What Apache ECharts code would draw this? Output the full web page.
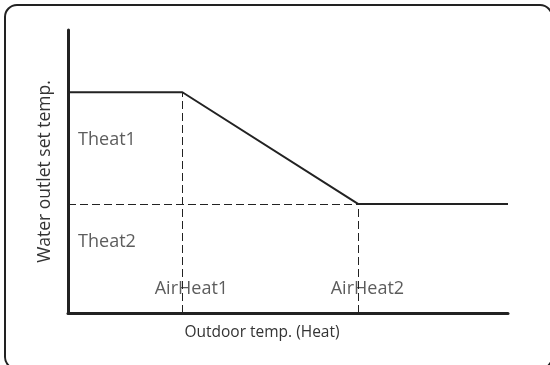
<!DOCTYPE html>
<html>
<head>
<meta charset="utf-8">
<script src="https://cdn.jsdelivr.net/npm/echarts@6/dist/echarts.min.js"></script>
<style>
  html, body { margin: 0; padding: 0; background: #fff; }
  #chart { width: 550px; height: 365px; }
</style>
</head>
<body>
<div id="chart"></div>
<script>
// Heating curve: outdoor temperature breakpoints and the water outlet set point
const outdoorTemp = [0, 26, 66, 100];
const setTemp = [78, 78, 38.5, 38.5];

// Names of the breakpoints on each axis
const airHeatNames = ['AirHeat1', 'AirHeat2'];
const airHeatValues = [26, 66];
const theatNames = ['Theat1', 'Theat2'];
const theatValues = [78, 38.5];
// Where the Theat names sit (y value of each label) and the AirHeat names' height
const theatLabelY = [61, 25];
const airHeatLabelY = 8.5;

const xTitle = 'Outdoor temp. (Heat)';
const yTitle = 'Water outlet set temp.';

const FONT = '"Open Sans", "Noto Sans", sans-serif';
const INK = '#222';
const TEXT = '#333';

const chart = echarts.init(document.getElementById('chart'), null, { renderer: 'canvas' });

const dash = { color: INK, width: 1, type: [8, 4] };

const option = {
  animation: false,
  grid: { left: 68, right: 42, top: 30, bottom: 52, containLabel: false },
  xAxis: {
    type: 'value', min: 0, max: 100,
    axisLine: { show: true, lineStyle: { color: INK, width: 3 } },
    axisTick: { show: false }, axisLabel: { show: false }, splitLine: { show: false },
    name: xTitle, nameLocation: 'middle', nameGap: 12,
    nameTextStyle: { fontFamily: FONT, fontSize: 15.5, color: TEXT, padding: [0, 52, 0, 0] }
  },
  yAxis: {
    type: 'value', min: 0, max: 100,
    axisLine: { show: true, lineStyle: { color: INK, width: 3 } },
    axisTick: { show: false }, axisLabel: { show: false }, splitLine: { show: false },
    name: yTitle, nameLocation: 'middle', nameGap: 14, nameRotate: 90,
    nameTextStyle: { fontFamily: FONT, fontSize: 17.5, color: TEXT }
  },
  series: [
    {
      type: 'line',
      data: outdoorTemp.map((x, i) => [x, setTemp[i]]),
      symbol: 'none',
      lineStyle: { color: INK, width: 2 },
      z: 3,
      markLine: {
        silent: true, symbol: 'none', label: { show: false },
        lineStyle: dash,
        data: [
          [{ coord: [airHeatValues[0], 0] }, { coord: [airHeatValues[0], theatValues[0]] }],
          [{ coord: [airHeatValues[1], 0] }, { coord: [airHeatValues[1], theatValues[1]] }],
          [{ coord: [0, theatValues[1]] }, { coord: [airHeatValues[1], theatValues[1]] }]
        ]
      }
    },
    {
      type: 'scatter',
      symbolSize: 0,
      silent: true,
      data: theatNames.map((n, i) => ({ value: [2.3, theatLabelY[i]], name: n })),
      label: {
        show: true, position: 'inside', align: 'left', verticalAlign: 'middle',
        formatter: p => p.name,
        fontFamily: FONT, fontSize: 18, color: TEXT
      }
    },
    {
      type: 'scatter',
      symbolSize: 0,
      silent: true,
      data: airHeatNames.map((n, i) => ({ value: [airHeatValues[i], airHeatLabelY], name: n })),
      label: {
        show: true, position: 'inside', align: 'center', verticalAlign: 'middle',
        offset: [9, 0], backgroundColor: '#fff', padding: [0, 1],
        formatter: p => p.name,
        fontFamily: FONT, fontSize: 18, color: TEXT
      }
    }
  ],
  graphic: [
    {
      type: 'rect', silent: true, z: -1,
      shape: { x: 5, y: 5, width: 547, height: 364, r: 12 },
      style: { fill: null, stroke: INK, lineWidth: 2 }
    }
  ]
};

chart.setOption(option);
</script>
</body>
</html>
